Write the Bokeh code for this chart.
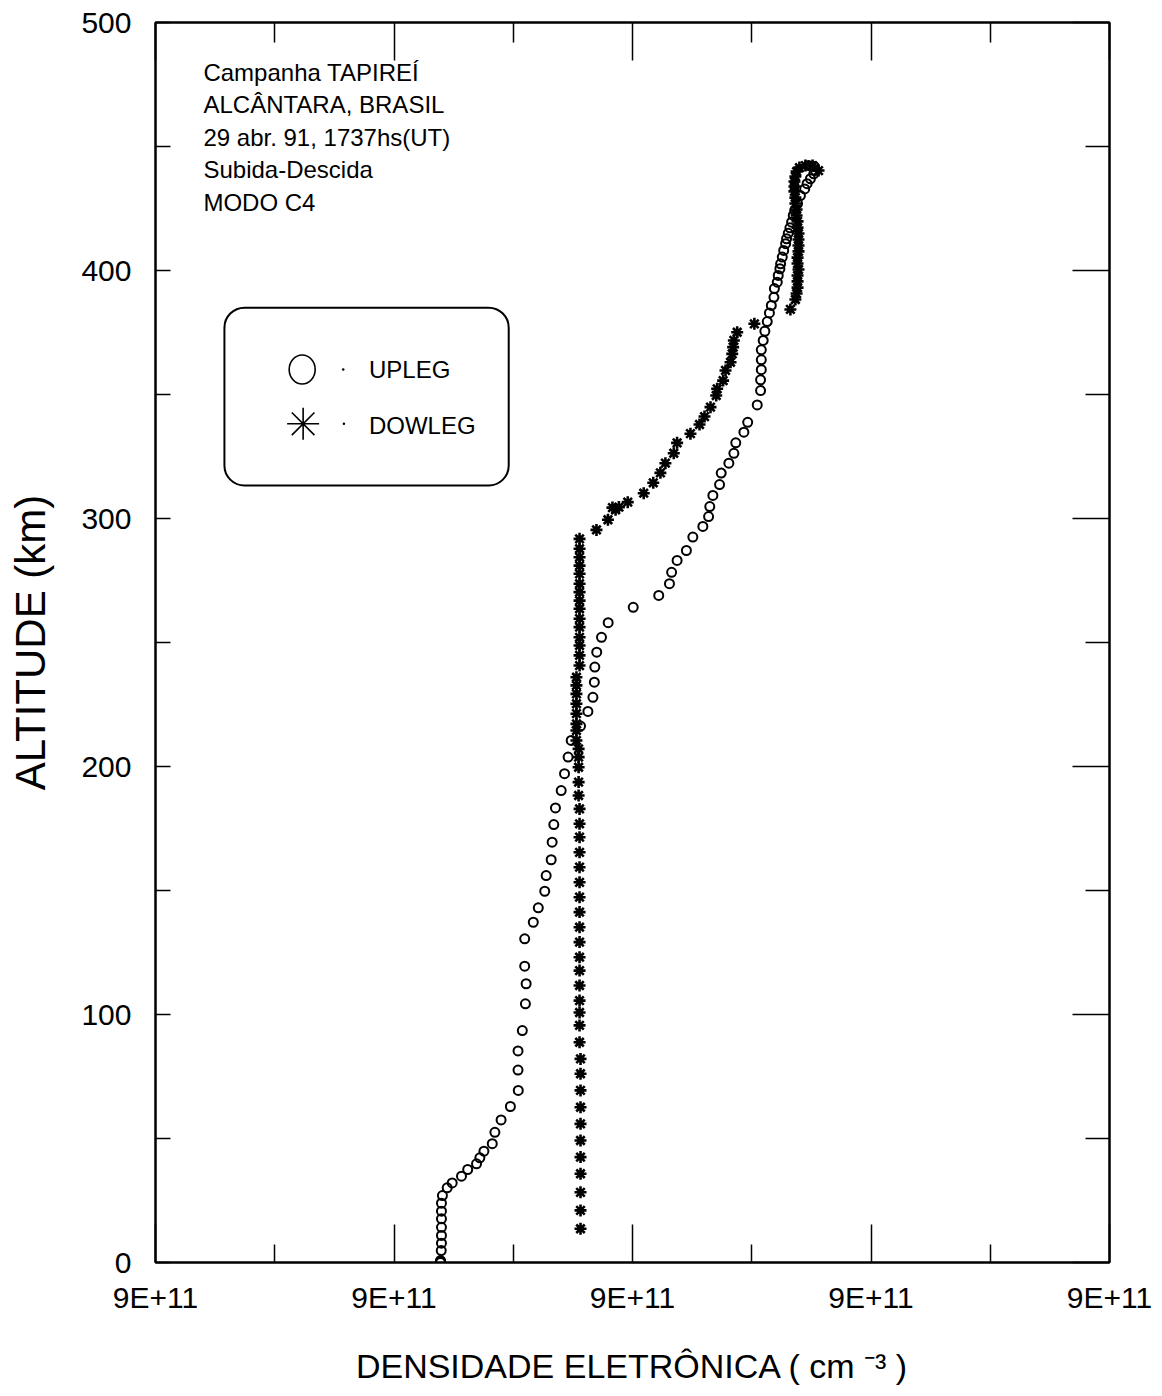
from bokeh.plotting import figure
from bokeh.models import LinearAxis, FixedTicker, BoxAnnotation, Range1d, CustomJSTickFormatter
from bokeh.embed import file_html
from bokeh.resources import INLINE
from bokeh.core.properties import value

# ---------------- data ----------------
# density is expressed in axis units: the axis spans 0..4, every major tick is labelled "9E+11"
upleg_density = [1.195, 1.195, 1.195, 1.198, 1.199, 1.199, 1.199, 1.199, 1.199, 1.199, 1.203,
                 1.223, 1.244, 1.283, 1.309, 1.346, 1.360, 1.377, 1.412, 1.423, 1.449, 1.488,
                 1.521, 1.520, 1.520, 1.538, 1.551, 1.554, 1.548, 1.548, 1.584, 1.605, 1.632,
                 1.638, 1.659, 1.663, 1.670, 1.677, 1.701, 1.715, 1.730, 1.743, 1.782, 1.813,
                 1.834, 1.840, 1.842, 1.850, 1.870, 1.898, 2.003, 2.110, 2.155, 2.164, 2.187,
                 2.226, 2.253, 2.295, 2.319, 2.324, 2.337, 2.365, 2.372, 2.404, 2.425, 2.433,
                 2.467, 2.483, 2.523, 2.537, 2.537, 2.540, 2.540, 2.540, 2.548, 2.555, 2.565,
                 2.574, 2.582, 2.593, 2.595, 2.607, 2.611, 2.618, 2.621, 2.628, 2.634, 2.642,
                 2.646, 2.653, 2.660, 2.667, 2.674, 2.680, 2.692, 2.704, 2.722, 2.732, 2.746,
                 2.760, 2.767, 2.763, 2.738]
upleg_altitude = [0.0, 0.4, 0.8, 4.8, 7.8, 10.9, 14.2, 17.6, 20.7, 23.9, 27.0,
                  30.1, 32.1, 34.8, 37.5, 39.8, 42.2, 44.9, 47.9, 52.5, 57.5, 62.9,
                  69.4, 77.6, 85.3, 93.5, 104.3, 112.4, 119.5, 130.5, 137.2, 143.0, 149.7,
                  156.0, 162.4, 169.5, 176.6, 183.3, 190.3, 197.1, 203.8, 210.5, 216.3, 222.2,
                  227.9, 234.0, 240.1, 246.1, 252.1, 258.0, 264.2, 269.0, 273.7, 278.3, 283.1,
                  287.1, 292.5, 296.8, 300.8, 304.8, 309.3, 313.7, 318.3, 322.3, 326.3, 330.5,
                  334.8, 338.8, 345.8, 351.6, 355.9, 360.0, 364.0, 368.0, 371.8, 375.5, 379.4,
                  382.9, 385.9, 389.2, 392.7, 395.3, 398.0, 400.7, 402.7, 405.4, 408.1, 410.8,
                  412.8, 415.0, 417.2, 419.5, 422.2, 424.2, 427.0, 430.2, 432.9, 435.0, 437.0,
                  439.0, 440.3, 441.9, 442.3]

downleg_density = [2.780, 2.755, 2.725, 2.700, 2.688, 2.683, 2.679, 2.679, 2.679, 2.683,
                   2.683, 2.688, 2.688, 2.692, 2.692, 2.696, 2.696, 2.696, 2.696, 2.692,
                   2.692, 2.696, 2.692, 2.692, 2.692, 2.688, 2.683, 2.662,
                   2.511, 2.439, 2.425, 2.422, 2.418, 2.411, 2.390, 2.380, 2.355, 2.351,
                   2.327, 2.302, 2.281, 2.243, 2.187, 2.173, 2.138, 2.117, 2.087, 2.047,
                   1.980, 1.943, 1.929, 1.916, 1.897, 1.849, 1.778,
                   1.778, 1.778, 1.778, 1.778, 1.778, 1.778, 1.778, 1.778, 1.778, 1.778,
                   1.778, 1.778, 1.778, 1.778, 1.765, 1.765, 1.765, 1.765, 1.765, 1.765,
                   1.765, 1.765, 1.774, 1.774, 1.774, 1.774, 1.774,
                   1.778, 1.778, 1.778, 1.778, 1.778, 1.778, 1.778, 1.778, 1.778, 1.778,
                   1.778, 1.778, 1.778, 1.778, 1.778, 1.778, 1.778,
                   1.782, 1.782, 1.782, 1.782, 1.782, 1.782, 1.782, 1.782, 1.782, 1.782,
                   1.782, 1.782, 1.782]
downleg_altitude = [440.3, 442.3, 442.3, 441.5, 439.9, 437.9, 435.9, 433.9, 431.9, 429.4,
                    427.0, 424.6, 422.2, 419.8, 417.3, 414.9, 412.5, 410.1, 407.7, 405.2,
                    402.8, 400.4, 398.0, 395.6, 393.1, 390.7, 388.3, 384.3,
                    378.5, 375.1, 371.8, 369.1, 366.4, 363.0, 359.7, 355.6, 352.3, 349.6,
                    344.9, 341.1, 337.9, 334.2, 330.5, 326.3, 322.3, 318.4, 314.4, 310.2,
                    306.6, 304.6, 303.5, 304.4, 299.5, 295.4, 291.8,
                    287.8, 284.4, 281.0, 277.7, 273.7, 270.3, 266.9, 263.6, 259.6, 256.2,
                    252.1, 248.8, 244.8, 240.7, 236.0, 232.7, 229.3, 225.3, 221.3, 217.2,
                    214.5, 210.5, 207.1, 203.8, 199.7, 193.7, 188.3,
                    182.9, 176.9, 171.5, 165.4, 159.4, 153.3, 147.3, 141.3, 135.2, 129.2,
                    123.1, 117.7, 111.7, 105.6, 100.8, 95.6, 88.8,
                    82.1, 76.1, 69.4, 62.6, 55.9, 49.2, 42.5, 35.8, 28.3, 21.0,
                    13.6]

x_tick_values = [0, 1, 2, 3, 4]
x_tick_labels = ["9E+11", "9E+11", "9E+11", "9E+11", "9E+11"]
x_minor_ticks = [0.5, 1.5, 2.5, 3.5]
y_tick_values = [0, 100, 200, 300, 400, 500]
y_minor_ticks = [50, 150, 250, 350, 450]

info_lines = ["Campanha TAPIREÍ", "ALCÂNTARA, BRASIL", "29 abr. 91, 1737hs(UT)",
              "Subida-Descida", "MODO C4"]
legend_labels = ["UPLEG", "DOWLEG"]

x_label = "DENSIDADE ELETRÔNICA ( cm ⁻³ )"
y_label = "ALTITUDE (km)"

n = min(len(downleg_density), len(downleg_altitude))
downleg_density = downleg_density[:n]
downleg_altitude = downleg_altitude[:n]

FONT = "Liberation Sans"

p = figure(width=1154, height=1388, x_range=Range1d(0, 4), y_range=Range1d(0, 500),
           output_backend="svg", toolbar_location=None,
           x_axis_location=None, y_axis_location=None,
           min_border_left=155, min_border_right=45, min_border_top=22, min_border_bottom=126,
           background_fill_color="white", border_fill_color="white")
p.grid.visible = False
p.outline_line_color = "black"
p.outline_line_width = 2

blank = CustomJSTickFormatter(code="return '';")

def style_axis(ax):
    ax.axis_line_color = "black"
    ax.axis_line_width = 2
    ax.major_tick_line_color = "black"
    ax.minor_tick_line_color = "black"
    ax.major_tick_line_width = 1.5
    ax.minor_tick_line_width = 1.5
    ax.major_tick_out = 0
    ax.minor_tick_out = 0
    ax.major_label_text_color = "black"
    ax.axis_label_text_color = "black"
    ax.axis_label_text_font_style = "normal"

bottom = LinearAxis(ticker=FixedTicker(ticks=x_tick_values, minor_ticks=x_minor_ticks),
                    major_label_overrides={v: l for v, l in zip(x_tick_values, x_tick_labels)},
                    axis_label=x_label)
style_axis(bottom)
bottom.major_tick_in = 38
bottom.minor_tick_in = 18
bottom.major_label_text_font = FONT
bottom.major_label_text_font_size = "30px"
bottom.major_label_standoff = 18
bottom.axis_label_text_font = FONT
bottom.axis_label_text_font_size = "34px"
bottom.axis_label_standoff = 30
p.add_layout(bottom, "below")

top = LinearAxis(ticker=FixedTicker(ticks=x_tick_values, minor_ticks=x_minor_ticks), formatter=blank)
style_axis(top)
top.major_tick_in = 38
top.minor_tick_in = 20
top.major_label_standoff = 0
p.add_layout(top, "above")

left = LinearAxis(ticker=FixedTicker(ticks=y_tick_values, minor_ticks=y_minor_ticks),
                  axis_label=y_label)
style_axis(left)
left.major_tick_in = 15
left.minor_tick_in = 15
left.major_label_text_font = FONT
left.major_label_text_font_size = "30px"
left.major_label_standoff = 24
left.axis_label_text_font = FONT
left.axis_label_text_font_size = "42px"
left.axis_label_standoff = 24
p.add_layout(left, "left")

right = LinearAxis(ticker=FixedTicker(ticks=y_tick_values, minor_ticks=y_minor_ticks), formatter=blank)
style_axis(right)
right.major_tick_in = 37
right.minor_tick_in = 24
right.major_label_standoff = 0
p.add_layout(right, "right")

# data marks
p.scatter(upleg_density, upleg_altitude, marker="circle", size=9, line_width=2,
          line_color="black", fill_color=None)
p.scatter(downleg_density, downleg_altitude, marker="asterisk", size=12, line_width=2.6,
          line_color="black")

# info text block (top-left)
info_x = 0.201
info_y0 = 479.8
info_step = 13.05
p.text(x=[info_x] * len(info_lines), y=[info_y0 - i * info_step for i in range(len(info_lines))],
       text=info_lines, text_font=value(FONT), text_font_size="24px", text_color="black",
       text_baseline="alphabetic", text_align="left")

# legend box
box = BoxAnnotation(left=0.289, right=1.481, bottom=313.3, top=385.0,
                    fill_alpha=0, line_color="black", line_alpha=1.0, line_width=2,
                    border_radius=20)
p.add_layout(box)
p.ellipse(x=[0.615], y=[360.1], width=26, height=29, width_units="screen", height_units="screen",
          fill_color=None, line_color="black", line_width=1.6)
p.scatter(x=[0.619], y=[338.2], marker="asterisk", size=32, line_width=1.6, line_color="black")
p.scatter(x=[0.787, 0.790], y=[360.1, 338.2], marker="circle", size=2.5,
          fill_color="black", line_color=None)
p.text(x=[0.895, 0.895], y=[360.2, 337.7], text=legend_labels, text_font=value(FONT),
       text_font_size="24px", text_color="black", text_baseline="alphabetic", text_align="left")

open("out.html", "w").write(file_html(p, INLINE))
